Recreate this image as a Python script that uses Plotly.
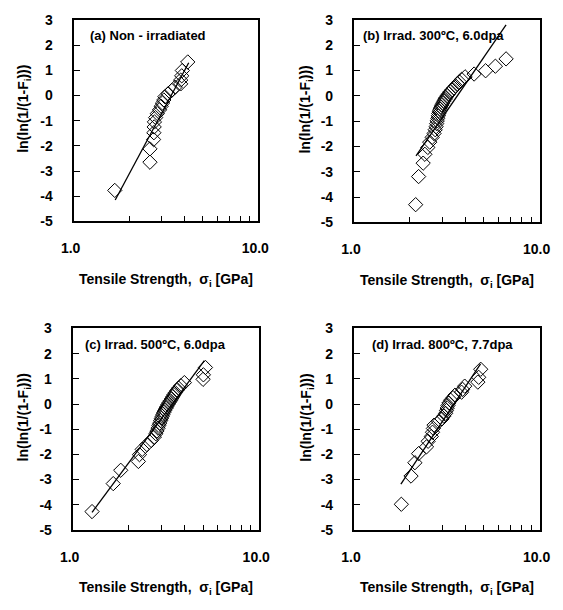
import plotly.graph_objects as go

# (a) Non-irradiated
a_strength = [1.67, 2.59, 2.59, 2.71, 2.72, 2.73, 2.74, 2.78, 2.84, 2.92, 2.98,
              3.03, 3.08, 3.12, 3.25, 3.40, 3.55, 3.80, 3.80, 3.85, 3.88, 4.15]
a_lnln = [-3.77, -2.65, -2.12, -1.75, -1.48, -1.25, -1.05, -0.88, -0.72, -0.57, -0.43,
          -0.30, -0.18, -0.05, 0.07, 0.20, 0.33, 0.46, 0.61, 0.78, 0.99, 1.33]
a_fit_x = [1.68, 4.20]
a_fit_y = [-4.15, 1.30]

# (b) Irrad. 300C, 6.0dpa
b_strength = [2.15, 2.23, 2.36, 2.41, 2.50, 2.56, 2.64, 2.70, 2.74, 2.77, 2.79, 2.81,
              2.83, 2.85, 2.86, 2.88, 2.91, 2.94, 2.97, 3.01, 3.05, 3.09, 3.13, 3.18,
              3.24, 3.30, 3.37, 3.45, 3.53, 3.61, 3.70, 3.80, 3.97, 4.44, 5.12, 5.78, 6.60]
b_lnln = [-4.30, -3.19, -2.66, -2.31, -2.04, -1.83, -1.64, -1.49, -1.34, -1.22, -1.10, -0.99,
          -0.89, -0.79, -0.70, -0.61, -0.53, -0.45, -0.37, -0.29, -0.21, -0.14, -0.07, 0.01,
          0.08, 0.16, 0.23, 0.31, 0.39, 0.47, 0.55, 0.65, 0.75, 0.86, 0.99, 1.17, 1.46]
b_fit_x = [2.16, 6.60]
b_fit_y = [-2.37, 2.80]

# (c) Irrad. 500C, 6.0dpa
c_strength = [1.27, 1.65, 1.81, 2.25, 2.28, 2.36, 2.50, 2.64, 2.74, 2.79, 2.83, 2.87,
              2.90, 2.93, 2.96, 2.99, 3.02, 3.05, 3.08, 3.12, 3.16, 3.20, 3.24, 3.29,
              3.34, 3.39, 3.44, 3.49, 3.55, 3.62, 3.70, 3.80, 3.97, 5.00, 5.02, 5.15]
c_lnln = [-4.27, -3.16, -2.63, -2.28, -2.01, -1.80, -1.61, -1.45, -1.31, -1.18, -1.07, -0.96,
          -0.85, -0.76, -0.66, -0.57, -0.49, -0.41, -0.33, -0.25, -0.17, -0.10, -0.02, 0.06,
          0.13, 0.21, 0.29, 0.37, 0.45, 0.54, 0.63, 0.73, 0.85, 0.98, 1.16, 1.45]
c_fit_x = [1.27, 5.08]
c_fit_y = [-4.30, 1.72]

# (d) Irrad. 800C, 7.7dpa
d_strength = [1.80, 2.03, 2.13, 2.23, 2.46, 2.51, 2.61, 2.65, 2.68, 2.70, 2.86, 2.98,
              3.05, 3.12, 3.15, 3.18, 3.21, 3.25, 3.32, 3.42, 3.50, 3.80, 3.85, 3.95,
              4.65, 4.70, 4.82]
d_lnln = [-3.98, -2.86, -2.33, -1.97, -1.70, -1.48, -1.29, -1.12, -0.97, -0.84, -0.71, -0.59,
          -0.48, -0.37, -0.26, -0.16, -0.06, 0.04, 0.15, 0.25, 0.35, 0.47, 0.58, 0.71,
          0.87, 1.06, 1.38]
d_fit_x = [1.79, 4.81]
d_fit_y = [-3.18, 1.59]

panel_labels = ["(a) Non - irradiated", "(b) Irrad. 300ºC, 6.0dpa",
                "(c) Irrad. 500ºC, 6.0dpa", "(d) Irrad. 800ºC, 7.7dpa"]
x_ticks = [1, 10]
x_tick_text = ["1.0", "10.0"]
x_minor = [2, 3, 4, 5, 6, 7, 8, 9]
y_ticks = [-5, -4, -3, -2, -1, 0, 1, 2, 3]
y_tick_text = ["-5", "-4", "-3", "-2", "-1", "0", "1", "2", "3"]

# the page body has an 8px margin, so the figure is drawn 8px in from the window corner
PAGE_PAD = 8
W, H = 563 - PAGE_PAD, 610 - PAGE_PAD
FONT = "Liberation Sans, Arial, sans-serif"


def px(x):
    return (x - PAGE_PAD) / W


def py(y):
    return 1 - (y - PAGE_PAD) / H


# frame boxes in window pixels: left, right, top, bottom, label x, y-title x
panels = [
    (63, 256, 12, 219, 78, 11),
    (356, 550, 12, 220, 363, 306),
    (62, 257, 329, 536, 73, 11),
    (356, 550, 329, 536, 373, 306),
]
data = [
    (a_strength, a_lnln, a_fit_x, a_fit_y),
    (b_strength, b_lnln, b_fit_x, b_fit_y),
    (c_strength, c_lnln, c_fit_x, c_fit_y),
    (d_strength, d_lnln, d_fit_x, d_fit_y),
]

fig = go.Figure()
annotations = []
layout = {}

for i, ((l, r, t, b, lab_x, ytx), (xs, ys, fx, fy)) in enumerate(zip(panels, data)):
    n = "" if i == 0 else str(i + 1)
    xa, ya = "x" + n, "y" + n

    fig.add_trace(go.Scatter(
        x=xs, y=ys, mode="markers", xaxis=xa, yaxis=ya,
        marker=dict(symbol="diamond-open", size=11, color="black",
                    line=dict(width=1, color="black")),
        showlegend=False
    ))
    fig.add_trace(go.Scatter(
        x=fx, y=fy, mode="lines", xaxis=xa, yaxis=ya,
        line=dict(color="black", width=1.3), showlegend=False
    ))

    layout["xaxis" + n] = dict(
        type="log", range=[0, 1], domain=[px(l), px(r)], anchor=ya,
        showline=True, linecolor="black", linewidth=2, mirror=True,
        showgrid=False, zeroline=False,
        tickvals=x_ticks, ticktext=x_tick_text, ticks="inside", ticklen=5,
        tickcolor="black", ticklabelstandoff=13, ticklabelshift=-3,
        tickfont=dict(family=FONT, size=14, color="black", weight="bold"),
        minor=dict(tickvals=x_minor, ticks="inside", ticklen=5,
                   tickcolor="black", showgrid=False),
    )
    layout["yaxis" + n] = dict(
        range=[-5, 3], domain=[py(b), py(t)], anchor=xa,
        showline=True, linecolor="black", linewidth=2, mirror=True,
        showgrid=False, zeroline=False,
        tickvals=y_ticks, ticktext=y_tick_text,
        ticks="inside", ticklen=6, tickcolor="black", ticklabelstandoff=16,
        tickfont=dict(family=FONT, size=14, color="black", weight="bold"),
    )

    annotations.append(dict(
        text=panel_labels[i], x=px(lab_x), y=py(t + 16), xref="paper", yref="paper",
        xanchor="left", yanchor="middle", showarrow=False,
        font=dict(family=FONT, size=13, color="black", weight="bold")
    ))
    annotations.append(dict(
        text="Tensile Strength,&nbsp; σ<sub>i</sub> [GPa]",
        x=px((l + r) / 2), y=py(b + 60), xref="paper", yref="paper",
        xanchor="center", yanchor="middle", showarrow=False,
        font=dict(family=FONT, size=14, color="black", weight="bold")
    ))
    annotations.append(dict(
        text="ln(ln(1/(1-F<sub>i</sub>)))", textangle=-90,
        x=px(ytx), y=py((t + b) / 2 - 12), xref="paper", yref="paper",
        xanchor="center", yanchor="middle", showarrow=False,
        font=dict(family=FONT, size=14, color="black", weight="bold")
    ))

fig.update_layout(
    width=W, height=H,
    margin=dict(l=0, r=0, t=0, b=0),
    paper_bgcolor="white", plot_bgcolor="white",
    annotations=annotations,
    **layout
)

fig.write_html("out.html")
